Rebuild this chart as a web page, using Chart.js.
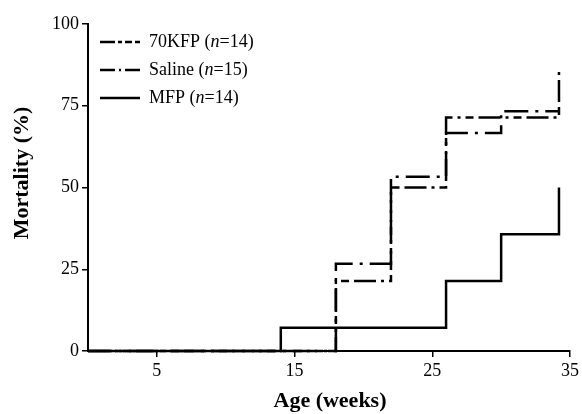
<!DOCTYPE html>
<html>
<head>
<meta charset="utf-8">
<script src="https://cdn.jsdelivr.net/npm/chart.js@4.4.1/dist/chart.umd.min.js"></script>
<style>
html, body { margin: 0; padding: 0; background: #fff; }
#wrap { width: 582px; height: 414px; }
</style>
</head>
<body>
<div id="wrap"><canvas id="grafico"></canvas></div>
<script>
const semanas70KFP = [0, 18, 22, 26, 34.2];
const mortalidad70KFP = [0, 21.4, 50, 71.4, 85.7];
const semanasSaline = [0, 18, 22, 26, 30, 34.2];
const mortalidadSaline = [0, 26.7, 53.3, 66.7, 73.3, 73.3];
const semanasMFP = [0, 14, 26, 30, 34.2];
const mortalidadMFP = [0, 7.1, 21.4, 35.7, 50];
const grupos = ['70KFP', 'Saline', 'MFP'];
const tamanos = [14, 15, 14];
const ticksX = [5, 15, 25, 35];
const ticksY = [0, 25, 50, 75, 100];

const fuente = '"Liberation Serif", "Times New Roman", serif';
const puntos = (xs, ys) => xs.map((x, i) => ({ x: x, y: ys[i] }));

// guiones de la leyenda (mas cortos que en las curvas)
const guionesLeyenda = [[15, 3, 4, 3, 7, 3, 5], [15, 4, 2, 4, 15], []];

const leyenda = {
    id: 'leyenda',
    afterDraw(chart) {
        const ctx = chart.ctx;
        ctx.save();
        ctx.fillStyle = '#000';
        ctx.strokeStyle = '#000';
        ctx.textBaseline = 'middle';
        grupos.forEach((g, i) => {
            const y = 42 + i * 28;
            ctx.lineWidth = 2.5;
            ctx.setLineDash(guionesLeyenda[i]);
            ctx.beginPath();
            ctx.moveTo(100, y);
            ctx.lineTo(140, y);
            ctx.stroke();
            let x = 149;
            ctx.font = '18px ' + fuente;
            const a = g + ' (';
            ctx.fillText(a, x, y);
            x += ctx.measureText(a).width;
            ctx.font = 'italic 18px ' + fuente;
            ctx.fillText('n', x, y);
            x += ctx.measureText('n').width;
            ctx.font = '18px ' + fuente;
            ctx.fillText('=' + tamanos[i] + ')', x, y);
        });
        ctx.setLineDash([]);

        // titulos de los ejes
        ctx.font = 'bold 22px ' + fuente;
        ctx.textAlign = 'center';
        ctx.fillText('Age (weeks)', 330, 401);
        ctx.translate(22, 173);
        ctx.rotate(-Math.PI / 2);
        ctx.fillText('Mortality (%)', 0, 0);
        ctx.restore();
    }
};

const grafico = document.getElementById('grafico').getContext('2d');

new Chart(grafico, {
    type: 'line',
    plugins: [leyenda],
    data: {
        datasets: [{
            label: grupos[0],
            data: puntos(semanas70KFP, mortalidad70KFP),
            borderDash: [22, 5, 3, 5, 8, 5]
        }, {
            label: grupos[1],
            data: puntos(semanasSaline, mortalidadSaline),
            borderDash: [24, 7, 3, 7]
        }, {
            label: grupos[2],
            data: puntos(semanasMFP, mortalidadMFP),
            borderDash: []
        }].map(d => Object.assign(d, {
            stepped: true,
            borderColor: '#000',
            borderWidth: 2.5,
            pointRadius: 0,
            fill: false,
            clip: 6
        }))
    },
    options: {
        responsive: true,
        maintainAspectRatio: false,
        animation: false,
        layout: { padding: { top: 24, right: 9, left: 0, bottom: 0 } },
        plugins: {
            legend: { display: false },
            tooltip: { enabled: false }
        },
        scales: {
            x: {
                type: 'linear',
                min: 0,
                max: 35,
                afterBuildTicks: s => { s.ticks = ticksX.map(v => ({ value: v })); },
                afterFit: s => { s.height = 63; },
                ticks: {
                    color: '#000',
                    padding: 3,
                    maxRotation: 0,
                    autoSkip: false,
                    font: { family: fuente, size: 18 }
                },
                grid: {
                    drawOnChartArea: false,
                    tickLength: 6,
                    color: '#000',
                    lineWidth: 1.5
                },
                border: { color: '#000', width: 2 }
            },
            y: {
                min: 0,
                max: 100,
                afterBuildTicks: s => { s.ticks = ticksY.map(v => ({ value: v })); },
                afterFit: s => { s.width = 88; },
                ticks: {
                    color: '#000',
                    padding: 3,
                    font: { family: fuente, size: 18 }
                },
                grid: {
                    drawOnChartArea: false,
                    tickLength: 6,
                    color: '#000',
                    lineWidth: 1.5
                },
                border: { color: '#000', width: 2 }
            }
        }
    }
});
</script>
</body>
</html>
